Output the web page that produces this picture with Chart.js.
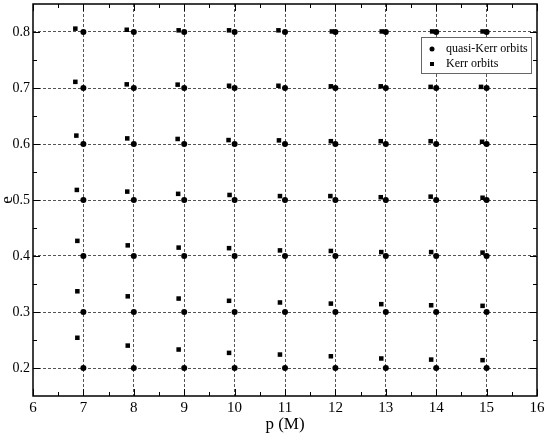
<!DOCTYPE html>
<html>
<head>
<meta charset="utf-8">
<script src="https://cdn.jsdelivr.net/npm/chart.js@4.4.1/dist/chart.umd.min.js"></script>
<style>
  html, body { margin: 0; padding: 0; background: #fff; }
  #wrap { width: 545px; height: 436px; }
</style>
</head>
<body>
<div id="wrap"><canvas id="chart" width="545" height="436"></canvas></div>
<script>
// quasi-Kerr grid
const pValues = [7, 8, 9, 10, 11, 12, 13, 14, 15];
const eValues = [0.2, 0.3, 0.4, 0.5, 0.6, 0.7, 0.8];

// Kerr orbits, one row per quasi-Kerr e value
const kerrP02 = [6.88, 7.88, 8.89, 9.89, 10.90, 11.91, 12.91, 13.90, 14.92];
const kerrE02 = [0.254, 0.240, 0.233, 0.227, 0.224, 0.221, 0.217, 0.215, 0.214];
const kerrP03 = [6.88, 7.88, 8.89, 9.89, 10.90, 11.91, 12.91, 13.90, 14.92];
const kerrE03 = [0.337, 0.328, 0.324, 0.320, 0.317, 0.315, 0.314, 0.312, 0.311];
const kerrP04 = [6.88, 7.88, 8.89, 9.89, 10.90, 11.91, 12.91, 13.90, 14.92];
const kerrE04 = [0.427, 0.419, 0.415, 0.414, 0.410, 0.409, 0.407, 0.407, 0.406];
const kerrP05 = [6.87, 7.87, 8.88, 9.90, 10.90, 11.90, 12.90, 13.89, 14.92];
const kerrE05 = [0.518, 0.515, 0.511, 0.509, 0.507, 0.507, 0.505, 0.506, 0.504];
const kerrP06 = [6.86, 7.87, 8.87, 9.88, 10.88, 11.91, 12.90, 13.89, 14.91];
const kerrE06 = [0.615, 0.610, 0.609, 0.607, 0.6065, 0.605, 0.605, 0.605, 0.604];
const kerrP07 = [6.84, 7.86, 8.87, 9.89, 10.87, 11.91, 12.90, 13.89, 14.89];
const kerrE07 = [0.711, 0.7065, 0.706, 0.704, 0.704, 0.703, 0.703, 0.702, 0.702];
const kerrP08 = [6.84, 7.86, 8.89, 9.89, 10.87, 11.93, 12.92, 13.92, 14.92];
const kerrE08 = [0.806, 0.804, 0.803, 0.803, 0.803, 0.801, 0.801, 0.801, 0.801];

const xTicks = [6, 7, 8, 9, 10, 11, 12, 13, 14, 15, 16];
const xMinorTicks = [6.5, 7.5, 8.5, 9.5, 10.5, 11.5, 12.5, 13.5, 14.5, 15.5];
const yTicks = [0.2, 0.3, 0.4, 0.5, 0.6, 0.7, 0.8];
const yMinorTicks = [0.25, 0.35, 0.45, 0.55, 0.65, 0.75];
const yTickLabels = ['0.2', '0.3', '0.4', '0.5', '0.6', '0.7', '0.8'];

const quasiPoints = [];
eValues.forEach(e => pValues.forEach(p => quasiPoints.push({ x: p, y: e })));

const kerrRows = [
  [kerrP02, kerrE02], [kerrP03, kerrE03], [kerrP04, kerrE04], [kerrP05, kerrE05],
  [kerrP06, kerrE06], [kerrP07, kerrE07], [kerrP08, kerrE08]
];
const kerrPoints = [];
kerrRows.forEach(([ps, es]) => ps.forEach((p, i) => kerrPoints.push({ x: p, y: es[i] })));

const serif = "'Liberation Serif', 'Times New Roman', serif";

// frame with inward ticks on all four sides
const framePlugin = {
  id: 'frame',
  afterDraw(chart) {
    const { ctx, chartArea: a, scales: { x, y } } = chart;
    ctx.save();
    ctx.strokeStyle = '#000';
    ctx.lineWidth = 1;
    const tick = (x1, y1, x2, y2) => {
      ctx.beginPath(); ctx.moveTo(x1, y1); ctx.lineTo(x2, y2); ctx.stroke();
    };
    xTicks.forEach(v => {
      const px = Math.round(x.getPixelForValue(v)) + 0.5;
      tick(px, a.bottom, px, a.bottom - 7);
      tick(px, a.top, px, a.top + 7);
    });
    xMinorTicks.forEach(v => {
      const px = Math.round(x.getPixelForValue(v)) + 0.5;
      tick(px, a.bottom, px, a.bottom - 4);
      tick(px, a.top, px, a.top + 4);
    });
    yTicks.forEach(v => {
      const py = Math.round(y.getPixelForValue(v)) + 0.5;
      tick(a.left, py, a.left + 7, py);
      tick(a.right, py, a.right - 7, py);
    });
    yMinorTicks.forEach(v => {
      const py = Math.round(y.getPixelForValue(v)) + 0.5;
      tick(a.left, py, a.left + 4, py);
      tick(a.right, py, a.right - 4, py);
    });
    ctx.lineWidth = 1.5;
    ctx.strokeRect(a.left, a.top, a.right - a.left, a.bottom - a.top);
    ctx.restore();
  }
};

// boxed legend inside the plot, upper right
const legendPlugin = {
  id: 'boxLegend',
  afterDraw(chart) {
    const { ctx } = chart;
    const bx = 421, by = 37, bw = 110, bh = 36;
    ctx.save();
    ctx.fillStyle = '#fff';
    ctx.fillRect(bx, by, bw, bh);
    ctx.strokeStyle = '#666';
    ctx.lineWidth = 1;
    ctx.strokeRect(bx + 0.5, by + 0.5, bw, bh);
    ctx.font = '12px ' + serif;
    ctx.textBaseline = 'middle';
    ctx.fillStyle = '#000';
    chart.data.datasets.forEach((ds, i) => {
      const cy = by + 12 + i * 15;
      if (ds.pointStyle === 'rect') {
        ctx.fillRect(bx + 9, cy - 2, 4, 4);
      } else {
        ctx.beginPath(); ctx.arc(bx + 11, cy, 2.5, 0, Math.PI * 2); ctx.fill();
      }
      ctx.fillText(ds.label, bx + 25, cy);
    });
    ctx.restore();
  }
};

const gridColor = ctx => (ctx.tick && (ctx.tick.value === 6 || ctx.tick.value === 16)) ? 'rgba(0,0,0,0)' : '#555';

new Chart(document.getElementById('chart'), {
  type: 'scatter',
  data: {
    datasets: [
      {
        label: 'quasi-Kerr orbits',
        data: quasiPoints,
        pointStyle: 'circle',
        pointRadius: 3,
        backgroundColor: '#000',
        borderColor: '#000',
        borderWidth: 0,
      },
      {
        label: 'Kerr orbits',
        data: kerrPoints,
        pointStyle: 'rect',
        pointRadius: 3.2,
        backgroundColor: '#000',
        borderColor: '#000',
        borderWidth: 0,
      }
    ]
  },
  options: {
    responsive: false,
    animation: false,
    layout: { padding: { top: 3, right: 8, left: 0, bottom: 0 } },
    plugins: { legend: { display: false }, tooltip: { enabled: false } },
    scales: {
      x: {
        type: 'linear',
        min: 6,
        max: 16,
        afterBuildTicks: scale => { scale.ticks = xTicks.map(v => ({ value: v })); },
        afterFit: scale => { scale.height = 40; scale.paddingLeft = 0; scale.paddingRight = 8; },
        ticks: { color: '#000', font: { family: serif, size: 15 }, padding: 3, maxRotation: 0 },
        grid: { color: gridColor, drawTicks: false, lineWidth: 1 },
        border: { display: false, dash: [3, 2] },
        title: { display: true, text: 'p (M)', color: '#000', font: { family: serif, size: 17 }, padding: { top: 0, bottom: 1 } }
      },
      y: {
        type: 'linear',
        min: 0.15,
        max: 0.85,
        afterBuildTicks: scale => { scale.ticks = yTicks.map(v => ({ value: v })); },
        afterFit: scale => { scale.width = 33; scale.paddingTop = 0; scale.paddingBottom = 0; },
        ticks: {
          color: '#000', font: { family: serif, size: 14 }, padding: 3,
          callback: (v, i) => yTickLabels[i]
        },
        grid: { color: '#555', drawTicks: false, lineWidth: 1 },
        border: { display: false, dash: [3, 2] },
        title: { display: true, text: 'e', color: '#000', font: { family: serif, size: 17, lineHeight: 0.9 }, padding: 0 }
      }
    }
  },
  plugins: [framePlugin, legendPlugin]
});
</script>
</body>
</html>
